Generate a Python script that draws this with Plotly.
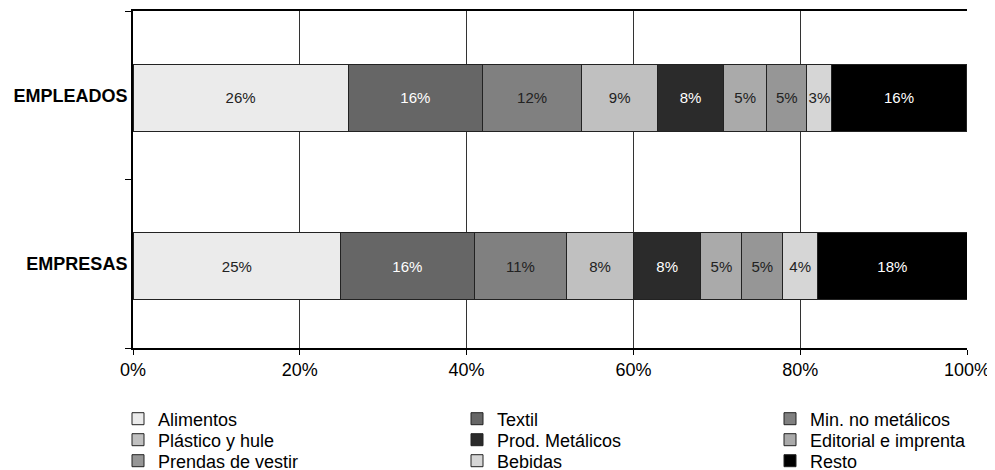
import plotly.graph_objects as go

categories = ["EMPRESAS", "EMPLEADOS"]
sectors = ["Alimentos", "Textil", "Min. no metálicos", "Plástico y hule",
           "Prod. Metálicos", "Editorial e imprenta", "Prendas de vestir",
           "Bebidas", "Resto"]
empresas = [24.9, 16.0, 11.1, 8.0, 8.1, 4.9, 4.9, 4.2, 17.9]
empleados = [25.8, 16.1, 11.9, 9.1, 7.9, 5.2, 4.8, 3.0, 16.1]
x_ticks = [0, 20, 40, 60, 80, 100]

colors = ["#EBEBEB", "#666666", "#808080", "#C0C0C0", "#2B2B2B",
          "#AAAAAA", "#969696", "#D6D6D6", "#000000"]
text_colors = ["#222222", "#FFFFFF", "#222222", "#222222", "#FFFFFF",
               "#222222", "#222222", "#222222", "#FFFFFF"]

FONT = "Liberation Sans, Arial, sans-serif"

# the page body has an 8px margin, so the figure is sized to fit inside
W, H = 987, 462

# legend grid: 3 columns x 3 rows (left edge of legend box / centre row, px)
legend_cols_px = [110, 449, 762]
legend_rows_px = [411, 432, 453]

fig = go.Figure()
legend_layout = {}
for i, name in enumerate(sectors):
    key = "legend" if i == 0 else f"legend{i + 1}"
    fig.add_trace(go.Bar(
        name=name,
        y=categories,
        x=[empresas[i], empleados[i]],
        orientation="h",
        width=0.4,
        offset=-0.215,
        marker=dict(color=colors[i], line=dict(color="#222222", width=1)),
        texttemplate="%{x:.0f}%",
        textposition="inside",
        insidetextanchor="middle",
        textangle=0,
        constraintext="none",
        textfont=dict(family=FONT, size=15, color=text_colors[i]),
        legend=key,
        showlegend=True,
        hoverinfo="skip",
    ))
    row, col = divmod(i, 3)
    legend_layout[key] = dict(
        orientation="h",
        xref="container", yref="container",
        xanchor="left", yanchor="middle",
        x=legend_cols_px[col] / W,
        y=1 - legend_rows_px[row] / H,
        font=dict(family=FONT, size=18, color="#000000"),
        bgcolor="rgba(0,0,0,0)",
        itemclick=False, itemdoubleclick=False,
    )

fig.update_layout(
    width=W, height=H,
    margin=dict(l=125, r=28, t=3, b=122, autoexpand=False),
    barmode="stack",
    paper_bgcolor="white",
    plot_bgcolor="white",
    font=dict(family=FONT, color="#000000"),
    uniformtext=dict(minsize=15, mode="show"),
    xaxis=dict(
        range=[0, 100],
        tickvals=x_ticks,
        ticktext=[f"{v}%" for v in x_ticks],
        showgrid=True, gridcolor="#333333", gridwidth=1,
        zeroline=False,
        showline=True, linecolor="#000000", linewidth=1.5, mirror=True,
        ticks="outside", ticklen=5, tickcolor="#000000", tickwidth=1,
        tickfont=dict(family=FONT, size=18, color="#000000"),
        automargin=False,
        fixedrange=True,
    ),
    yaxis=dict(
        type="category",
        categoryorder="array", categoryarray=categories,
        range=[-0.5, 1.5],
        tickson="boundaries",
        ticks="outside", ticklen=6, tickcolor="#000000", tickwidth=1,
        showline=True, linecolor="#000000", linewidth=2,
        showgrid=False, zeroline=False,
        tickfont=dict(family=FONT, size=18, color="#000000", weight="bold"),
        automargin=False,
        fixedrange=True,
    ),
    **legend_layout,
)

fig.write_html("out.html")
